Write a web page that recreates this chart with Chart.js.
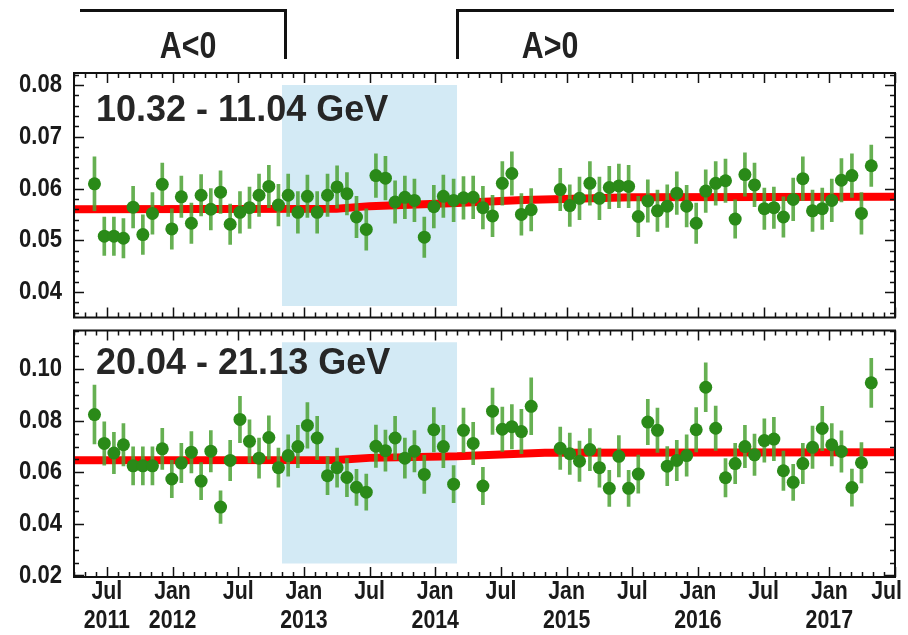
<!DOCTYPE html>
<html>
<head>
<meta charset="utf-8">
<script src="https://cdn.jsdelivr.net/npm/chart.js@4.4.1/dist/chart.umd.min.js"></script>
<style>
  html, body { margin: 0; padding: 0; background: #fff; }
  #wrap { position: relative; width: 908px; height: 635px; overflow: hidden; background: #fff; }
  canvas { position: absolute; left: 0; }
  .brk { position: absolute; box-sizing: border-box; border-color: #111; border-style: solid; border-width: 0; }
  .hdr { position: absolute; top: 26px; font-family: 'Liberation Sans', Arial, sans-serif;
         font-weight: bold; font-size: 37px; line-height: 40px; color: #222;
         transform: translateX(-50%) scaleX(0.82); white-space: nowrap; }
  .panel { position: absolute; left: 96px; font-family: 'Liberation Sans', Arial, sans-serif; font-weight: bold;
           font-size: 36px; line-height: 36px; color: #262626; white-space: nowrap; }
</style>
</head>
<body>
<div id="wrap">
  <canvas id="topChart" width="908" height="324" style="top:0px"></canvas>
  <canvas id="botChart" width="908" height="311" style="top:324px"></canvas>
  <div class="brk" style="left:80px; top:9px; width:207px; height:50px; border-top-width:3px; border-right-width:3px;"></div>
  <div class="brk" style="left:456px; top:9px; width:438px; height:50px; border-top-width:3px; border-left-width:3px;"></div>
  <div class="hdr" style="left:188px;">A&lt;0</div>
  <div class="hdr" style="left:550px;">A&gt;0</div>
  <div class="panel" style="top:91px;">10.32 - 11.04 GeV</div>
  <div class="panel" style="top:344px;">20.04 - 21.13 GeV</div>
</div>
<script>
// ---- data ----
// mid-dates of the 27-day Bartels rotations shown (BR 2472-2473 missing)
const rotationMid = [
  '2011-05-28','2011-06-24','2011-07-21','2011-08-17','2011-09-13','2011-10-10','2011-11-06','2011-12-03','2011-12-30','2012-01-26',
  '2012-02-22','2012-03-20','2012-04-16','2012-05-13','2012-06-09','2012-07-06','2012-08-02','2012-08-29','2012-09-25','2012-10-22',
  '2012-11-18','2012-12-15','2013-01-11','2013-02-07','2013-03-06','2013-04-02','2013-04-29','2013-05-26','2013-06-22','2013-07-19',
  '2013-08-15','2013-09-11','2013-10-08','2013-11-04','2013-12-01','2013-12-28','2014-01-24','2014-02-20','2014-03-19','2014-04-15',
  '2014-05-12','2014-06-08','2014-07-05','2014-08-01','2014-08-28','2014-09-24',
  '2014-12-14','2015-01-10','2015-02-06','2015-03-05','2015-04-01','2015-04-28','2015-05-25','2015-06-21','2015-07-18','2015-08-14',
  '2015-09-10','2015-10-07','2015-11-03','2015-11-30','2015-12-27','2016-01-23','2016-02-19','2016-03-17','2016-04-13','2016-05-10',
  '2016-06-06','2016-07-03','2016-07-30','2016-08-26','2016-09-22','2016-10-19','2016-11-15','2016-12-12','2017-01-08','2017-02-04',
  '2017-03-03','2017-03-30','2017-04-26'
];
const topFlux = [
  0.0609,0.0508,0.0508,0.0504,0.0564,0.0511,0.0552,0.0608,0.0522,0.0584,
  0.0533,0.0587,0.0560,0.0593,0.0531,0.0554,0.0563,0.0587,0.0604,0.0568,
  0.0587,0.0554,0.0585,0.0554,0.0587,0.0603,0.0590,0.0545,0.0521,0.0625,
  0.0620,0.0574,0.0583,0.0577,0.0506,0.0565,0.0585,0.0577,0.0582,0.0583,
  0.0563,0.0547,0.0610,0.0629,0.0550,0.0559,
  0.0598,0.0567,0.0581,0.0610,0.0581,0.0602,0.0605,0.0604,0.0546,0.0576,
  0.0557,0.0566,0.0591,0.0566,0.0533,0.0595,0.0610,0.0615,0.0541,0.0627,
  0.0607,0.0561,0.0563,0.0545,0.0579,0.0619,0.0557,0.0561,0.0577,0.0616,
  0.0625,0.0552,0.0644
];
const topErr = [
  0.0052,0.0037,0.0037,0.0038,0.0040,0.0038,0.0040,0.0041,0.0039,0.0040,
  0.0039,0.0040,0.0040,0.0041,0.0039,0.0040,0.0040,0.0041,0.0041,0.0040,
  0.0041,0.0040,0.0041,0.0040,0.0041,0.0041,0.0041,0.0040,0.0040,0.0042,
  0.0042,0.0041,0.0041,0.0041,0.0039,0.0041,0.0041,0.0041,0.0041,0.0041,
  0.0041,0.0040,0.0042,0.0042,0.0040,0.0041,
  0.0041,0.0040,0.0041,0.0042,0.0041,0.0041,0.0042,0.0041,0.0039,0.0041,
  0.0040,0.0041,0.0041,0.0040,0.0039,0.0041,0.0042,0.0042,0.0037,0.0042,
  0.0042,0.0040,0.0040,0.0039,0.0041,0.0042,0.0040,0.0040,0.0041,0.0042,
  0.0042,0.0040,0.0040
];
const botFlux = [
  0.0824,0.0712,0.0675,0.0707,0.0625,0.0625,0.0625,0.0691,0.0574,0.0636,
  0.0678,0.0566,0.0682,0.0465,0.0646,0.0805,0.0720,0.0655,0.0735,0.0618,
  0.0665,0.0700,0.0782,0.0733,0.0587,0.0618,0.0580,0.0542,0.0523,0.0701,
  0.0684,0.0733,0.0655,0.0682,0.0592,0.0765,0.0700,0.0554,0.0763,0.0712,
  0.0547,0.0837,0.0767,0.0777,0.0758,0.0856,
  0.0693,0.0672,0.0643,0.0688,0.0618,0.0538,0.0662,0.0538,0.0593,0.0795,
  0.0763,0.0624,0.0646,0.0665,0.0765,0.0930,0.0771,0.0579,0.0634,0.0700,
  0.0668,0.0723,0.0729,0.0606,0.0561,0.0634,0.0697,0.0770,0.0707,0.0681,
  0.0541,0.0637,0.0947
];
const botErr = [
  0.0114,0.0084,0.0080,0.0082,0.0074,0.0074,0.0074,0.0080,0.0072,0.0076,
  0.0080,0.0072,0.0080,0.0063,0.0078,0.0090,0.0084,0.0078,0.0084,0.0076,
  0.0080,0.0082,0.0088,0.0084,0.0074,0.0076,0.0074,0.0070,0.0070,0.0082,
  0.0080,0.0084,0.0078,0.0080,0.0074,0.0086,0.0082,0.0072,0.0086,0.0082,
  0.0072,0.0090,0.0086,0.0086,0.0086,0.0110,
  0.0082,0.0080,0.0078,0.0082,0.0076,0.0070,0.0080,0.0070,0.0074,0.0088,
  0.0086,0.0076,0.0078,0.0080,0.0086,0.0095,0.0086,0.0074,0.0078,0.0082,
  0.0080,0.0084,0.0084,0.0076,0.0070,0.0078,0.0082,0.0086,0.0082,0.0080,
  0.0072,0.0078,0.0095
];
// fitted trend (months since Jan 2011)
const topFitMonths = [3, 27, 30, 38, 44, 54, 78];
const topFit       = [0.0560, 0.0561, 0.0566, 0.0572, 0.0578, 0.0583, 0.0584];
const botFitMonths = [3, 27, 30, 38, 46, 78];
const botFit       = [0.0647, 0.0648, 0.0656, 0.0662, 0.0676, 0.0678];
// shaded reversal period (Nov 2012 - Mar 2014)
const shadeMonths = [22, 38];
const topShade = [0.0373, 0.0800];
const botShade = [0.0246, 0.1104];
// axes
const xRange = [3, 78];
const xTickMonths = [6, 12, 18, 24, 30, 36, 42, 48, 54, 60, 66, 72, 78];
const xTickLabels = [['Jul','2011'],['Jan','2012'],['Jul'],['Jan','2013'],['Jul'],['Jan','2014'],['Jul'],
                     ['Jan','2015'],['Jul'],['Jan','2016'],['Jul'],['Jan','2017'],['Jul']];
const topYRange = [0.0351, 0.0823];
const topYTicks = [0.04, 0.05, 0.06, 0.07, 0.08];
const botYRange = [0.0194, 0.1150];
const botYTicks = [0.02, 0.04, 0.06, 0.08, 0.10];

// ---- helpers ----
function toMonth(s) {
  const [Y, M, D] = s.split('-').map(Number);
  const dim = new Date(Y, M, 0).getDate();
  return (Y - 2011) * 12 + (M - 1) + (D - 1) / dim;
}
const LABEL_FONT = "bold 26px 'Liberation Sans', Arial, sans-serif";
const SQUEEZE = 0.82;   // emulates a narrow (condensed) face

// frame, inward ROOT-style ticks, and condensed tick labels (positions from the chart's scales)
const frameTicks = {
  id: 'frameTicks',
  afterDatasetsDraw(chart, args, o) {
    const { ctx, chartArea: a, scales: { x, y } } = chart;
    ctx.save();
    ctx.strokeStyle = '#111';
    ctx.lineWidth = 1.5;
    ctx.beginPath();
    for (let m = Math.ceil(x.min); m <= x.max; m++) {
      const px = Math.round(x.getPixelForValue(m)) + 0.5;
      const L = (m % 6 === 0) ? 10 : 5;
      ctx.moveTo(px, a.bottom); ctx.lineTo(px, a.bottom - L);
      ctx.moveTo(px, a.top); ctx.lineTo(px, a.top + L);
    }
    const n0 = Math.ceil(y.min / o.minor - 1e-6), n1 = Math.floor(y.max / o.minor + 1e-6);
    for (let n = n0; n <= n1; n++) {
      const v = n * o.minor;
      const py = Math.round(y.getPixelForValue(v)) + 0.5;
      const isMajor = Math.abs(v / o.major - Math.round(v / o.major)) < 1e-6;
      const L = isMajor ? 10 : 5;
      ctx.moveTo(a.left, py); ctx.lineTo(a.left + L, py);
      ctx.moveTo(a.right, py); ctx.lineTo(a.right - L, py);
    }
    ctx.stroke();
    ctx.lineWidth = 2;
    ctx.strokeRect(a.left, a.top, a.right - a.left, a.bottom - a.top);

    // tick labels
    ctx.fillStyle = '#1a1a1a';
    ctx.font = LABEL_FONT;
    ctx.textBaseline = 'middle';
    ctx.textAlign = 'right';
    o.yTicks.forEach(v => {
      const py = y.getPixelForValue(v);
      ctx.save(); ctx.translate(a.left - 12, py); ctx.scale(0.85, 1);
      ctx.fillText(v.toFixed(2), 0, 0); ctx.restore();
    });
    if (o.showX) {
      ctx.textAlign = 'center';
      xTickMonths.forEach((m, i) => {
        let px = x.getPixelForValue(m);
        xTickLabels[i].forEach((line, k) => {
          const w = ctx.measureText(line).width * SQUEEZE;
          const cx = Math.min(px, chart.width - 6 - w / 2);
          ctx.save(); ctx.translate(cx, a.bottom + 15 + k * 29); ctx.scale(SQUEEZE, 1);
          ctx.fillText(line, 0, 0); ctx.restore();
        });
      });
    }
    ctx.restore();
  }
};

function makePanel(id, flux, err, fitM, fit, shade, yRange, yTicks, minor, major, showX, padding) {
  const xs = rotationMid.map(toMonth);
  const cfg = {
    type: 'scatter',
    data: {
      datasets: [
        { type: 'scatter', order: 1, data: xs.map((x, i) => ({ x, y: flux[i] })),
          pointRadius: 6.5, pointHoverRadius: 6.5, pointBackgroundColor: '#2a8a18', pointBorderWidth: 0, pointBorderColor: '#2a8a18' },
        { type: 'bar', order: 2, data: xs.map((x, i) => ({ x, y: [flux[i] - err[i], flux[i] + err[i]] })),
          backgroundColor: 'rgba(75,162,52,0.85)', borderWidth: 0, barThickness: 3, grouped: false },
        { type: 'line', order: 3, data: fitM.map((m, i) => ({ x: m, y: fit[i] })),
          borderColor: '#ff0000', borderWidth: 8, pointRadius: 0, tension: 0, fill: false },
        { type: 'line', order: 4, data: shadeMonths.map(m => ({ x: m, y: shade[1] })),
          borderWidth: 0, borderColor: 'rgba(0,0,0,0)', backgroundColor: '#d3eaf5', pointRadius: 0, fill: { value: shade[0] } }
      ]
    },
    options: {
      responsive: false, animation: false, devicePixelRatio: 1,
      layout: { padding: padding },
      plugins: { legend: { display: false }, tooltip: { enabled: false },
                 frameTicks: { minor, major, yTicks, showX } },
      scales: {
        x: {
          type: 'linear', min: xRange[0], max: xRange[1], offset: false, display: showX,
          grid: { display: false, drawTicks: false }, border: { display: false },
          ticks: { display: false },
          afterFit: s => { if (showX) s.height = 58; s.paddingLeft = 0; s.paddingRight = 0; }
        },
        y: {
          type: 'linear', min: yRange[0], max: yRange[1],
          grid: { display: false, drawTicks: false }, border: { display: false },
          ticks: { display: false },
          afterFit: s => { s.width = 74; s.paddingTop = 0; s.paddingBottom = 0; }
        }
      }
    },
    plugins: [frameTicks]
  };
  return new Chart(document.getElementById(id), cfg);
}

makePanel('topChart', topFlux, topErr, topFitMonths, topFit, topShade, topYRange, topYTicks, 0.002, 0.01, false,
          { left: 0, right: 13, top: 73, bottom: 2 });
makePanel('botChart', botFlux, botErr, botFitMonths, botFit, botShade, botYRange, botYTicks, 0.005, 0.02, true,
          { left: 0, right: 13, top: 2, bottom: 0 });
</script>
</body>
</html>
